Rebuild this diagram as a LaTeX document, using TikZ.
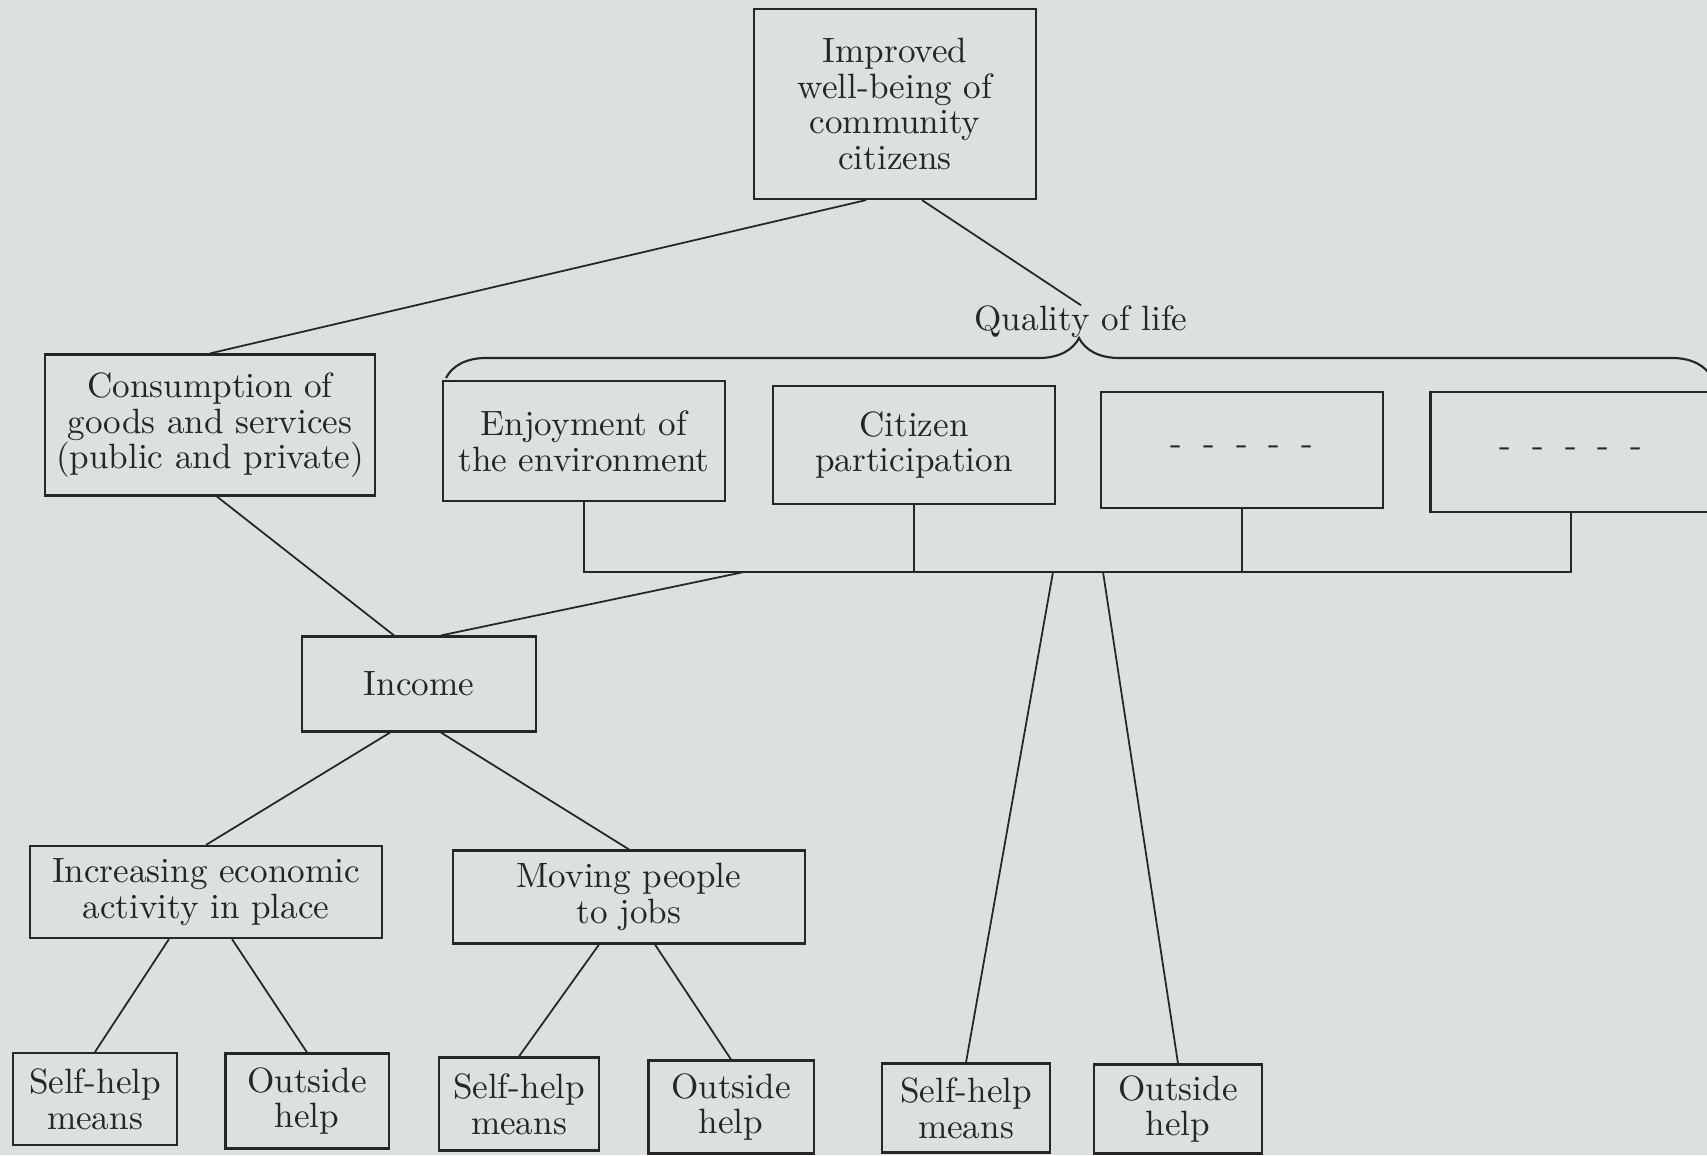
\documentclass[tikz,border=0pt]{standalone}
\usetikzlibrary{decorations.pathreplacing}
\definecolor{paper}{RGB}{219,225,221}
\definecolor{ink}{RGB}{38,38,36}
\tikzset{
  box/.style={draw=ink, line width=0.6pt, align=center, inner sep=1pt,
              text=ink},
  link/.style={draw=ink, line width=0.5pt},
  bus/.style={draw=ink, line width=0.6pt},
}

\begin{document}
\begin{tikzpicture}[x=0.01cm, y=-0.01cm, font=\fontsize{10}{10.2}\selectfont]
\path[use as bounding box, fill=paper] (0,0) rectangle (1707,1155);
\clip (0,0) rectangle (1707,1155);

\node[box, minimum width=2.82cm, minimum height=1.90cm] (top) at (895,104)
  {Improved\\well-being of\\community\\citizens};

\node[box, minimum width=3.29cm, minimum height=1.41cm] (cons) at (210,425)
  {Consumption of\\goods and services\\(public and private)};
\node[box, minimum width=2.81cm, minimum height=1.20cm] (enjoy) at (584,441)
  {Enjoyment of\\the environment};
\node[box, minimum width=2.81cm, minimum height=1.18cm] (citizen) at (914,445)
  {Citizen\\participation};
\node[box, minimum width=2.81cm, minimum height=1.16cm] (blankA) at (1242,450)
  {\spaceskip=0.6em\relax - - - - -};
\node[box, minimum width=2.81cm, minimum height=1.20cm] (blankB) at (1571,452)
  {\spaceskip=0.6em\relax - - - - -};

\node[text=ink, inner sep=0pt] (qol) at (1081,322) {Quality of life};
\draw[ink, line width=0.6pt, decorate, decoration={brace, amplitude=0.4cm}]
  (446,378) -- (1712,378);

\coordinate (busL) at (584,572);
\coordinate (busA) at (744,572);
\coordinate (busS) at (1053,572);
\coordinate (busO) at (1103,572);

\node[box, minimum width=2.34cm, minimum height=0.95cm] (income) at (419,684)
  {Income};

\node[box, minimum width=3.52cm, minimum height=0.92cm] (incr) at (206,892)
  {Increasing economic\\activity in place};
\node[box, minimum width=3.52cm, minimum height=0.93cm] (moving) at (629,897)
  {Moving people\\to jobs};

\node[box, minimum width=1.64cm, minimum height=0.92cm] (selfA) at (95,1099)
  {Self-help\\means};
\node[box, minimum width=1.63cm, minimum height=0.95cm] (outA) at (307,1101)
  {Outside\\help};
\node[box, minimum width=1.60cm, minimum height=0.93cm] (selfB) at (519,1104)
  {Self-help\\means};
\node[box, minimum width=1.65cm, minimum height=0.93cm] (outB) at (731,1107)
  {Outside\\help};
\node[box, minimum width=1.68cm, minimum height=0.89cm] (selfC) at (966,1108)
  {Self-help\\means};
\node[box, minimum width=1.68cm, minimum height=0.89cm] (outC) at (1178,1109)
  {Outside\\help};

\draw[bus] (enjoy.south) -- (enjoy.south |- busL) -- (blankB.south |- busL)
  -- (blankB.south);
\draw[bus] (citizen.south) -- (citizen.south |- busL);
\draw[bus] (blankA.south) -- (blankA.south |- busL);

\draw[link] ([xshift=-0.29cm]top.south) -- (cons.north);
\draw[link] ([xshift=0.27cm]top.south) -- (qol.north);
\draw[link] ([xshift=0.07cm]cons.south) -- ([xshift=-0.25cm]income.north);
\draw[link] (busA) -- ([xshift=0.22cm]income.north);
\draw[link] ([xshift=-0.29cm]income.south) -- (incr.north);
\draw[link] ([xshift=0.22cm]income.south) -- (moving.north);
\draw[link] ([xshift=-0.37cm]incr.south) -- (selfA.north);
\draw[link] ([xshift=0.26cm]incr.south) -- (outA.north);
\draw[link] ([xshift=-0.30cm]moving.south) -- (selfB.north);
\draw[link] ([xshift=0.26cm]moving.south) -- (outB.north);
\draw[link] (busS) -- (selfC.north);
\draw[link] (busO) -- (outC.north);

\end{tikzpicture}
\end{document}
